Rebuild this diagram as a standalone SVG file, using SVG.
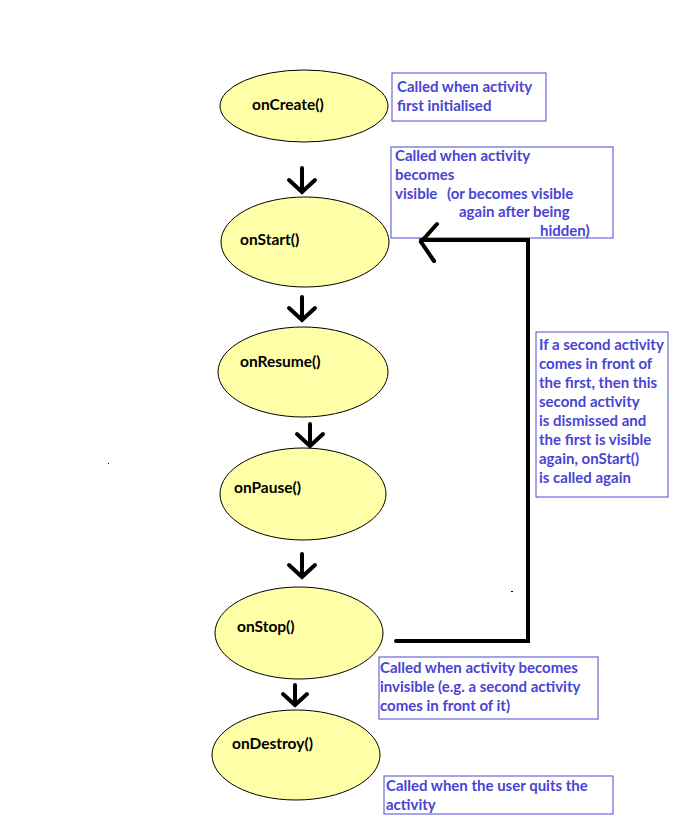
<svg xmlns="http://www.w3.org/2000/svg" width="676" height="840" viewBox="0 0 676 840">
<style>
.n ellipse{fill:#ffffa8;stroke:#000;stroke-width:1}
.n text{font-family:Lato,"Liberation Sans",sans-serif;font-weight:bold;font-size:15.5px;fill:#000}
.b rect{fill:#fff;stroke:#4a4ad6;stroke-width:1}
.b text{font-family:Lato,"Liberation Sans",sans-serif;font-weight:bold;font-size:15px;fill:#4a44d4}
.c path{fill:none;stroke:#000;stroke-width:4;stroke-linecap:round;stroke-linejoin:miter}
</style>
<rect width="676" height="840" fill="#fff"/>
<g id="onCreate" class="n"><ellipse cx="304" cy="106" rx="84" ry="36"/><text x="252" y="110">onCreate()</text></g>
<g id="onStart" class="n"><ellipse cx="305" cy="242" rx="84" ry="45"/><text x="240" y="245">onStart()</text></g>
<g id="onResume" class="n"><ellipse cx="303" cy="372" rx="85" ry="45"/><text x="240" y="367">onResume()</text></g>
<g id="onPause" class="n"><ellipse cx="303" cy="494" rx="83" ry="46"/><text x="234" y="493">onPause()</text></g>
<g id="onStop" class="n"><ellipse cx="299" cy="633" rx="84" ry="46"/><text x="237" y="632">onStop()</text></g>
<g id="onDestroy" class="n"><ellipse cx="296" cy="755" rx="84" ry="45"/><text x="232" y="749">onDestroy()</text></g>
<g id="note-create" class="b"><rect x="392" y="73" width="154" height="48"/><text x="397" y="92">Called when activity</text><text x="397" y="111">first initialised</text></g>
<g id="note-start" class="b"><rect x="391" y="147" width="222" height="91"/><text x="395" y="161">Called when activity</text><text x="395" y="180">becomes</text><text x="395" y="199">visible</text><text x="447" y="199">(or becomes visible</text><text x="459" y="217">again after being</text><text x="540" y="236">hidden)</text></g>
<g id="note-restart" class="b"><rect x="536" y="332" width="132" height="165"/><text x="539" y="350">If a second activity</text><text x="539" y="369">comes in front of</text><text x="539" y="388">the first, then this</text><text x="539" y="407">second activity</text><text x="539" y="426">is dismissed and</text><text x="539" y="445">the first is visible</text><text x="539" y="464">again, onStart()</text><text x="539" y="483">is called again</text></g>
<g id="note-stop" class="b"><rect x="379" y="657" width="219" height="62"/><text x="380" y="673">Called when activity becomes</text><text x="380" y="692">invisible (e.g. a second activity</text><text x="380" y="711">comes in front of it)</text></g>
<g id="note-destroy" class="b"><rect x="384" y="776" width="229" height="38"/><text x="386" y="791">Called when the user quits the</text><text x="386" y="810">activity</text></g>
<g id="connectors" class="c">
<path d="M302 168V192M289 180L302 192L315 180"/>
<path d="M302 297V320M289 308L302 320L315 308"/>
<path d="M310 424V446M297 434L310 446L323 434"/>
<path d="M302 554V577M289 565L302 577L315 565"/>
<path d="M295 685V705M283 694L295 705L307 694"/>
<path d="M396 641H528V240H421M437 224L421 242L434 261"/>
</g>
<rect x="108" y="463" width="1" height="1" fill="#000"/>
<rect x="511" y="591" width="2" height="1" fill="#000"/>
</svg>
